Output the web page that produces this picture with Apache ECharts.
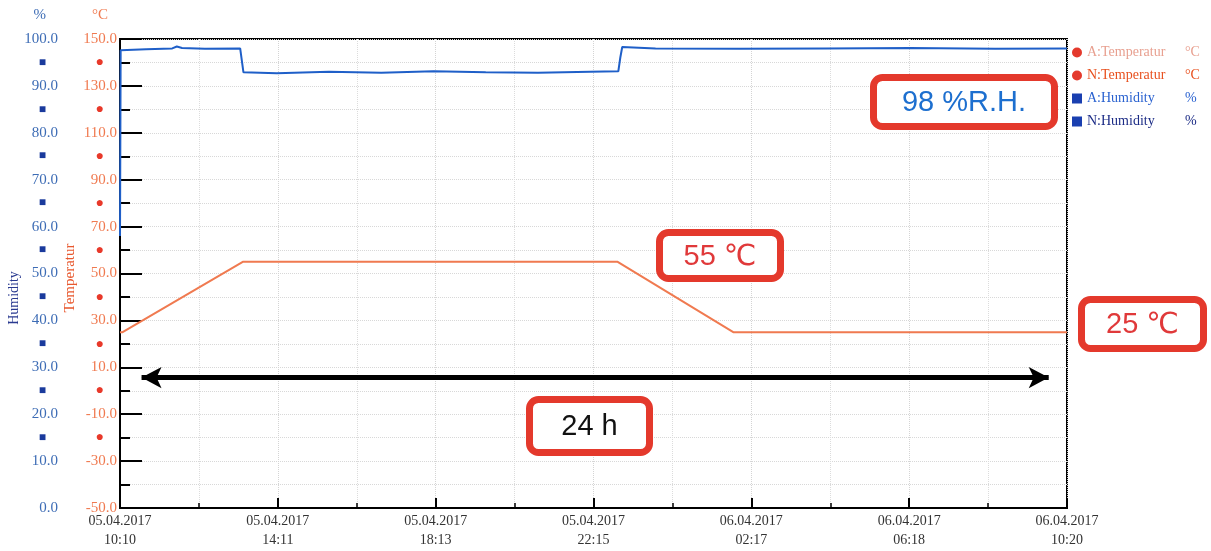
<!DOCTYPE html>
<html>
<head>
<meta charset="utf-8">
<script src="https://cdn.jsdelivr.net/npm/echarts@6/dist/echarts.min.js"></script>
<style>
html,body{margin:0;padding:0;background:#fff;}
#chart{width:1211px;height:551px;}
</style>
</head>
<body>
<div id="chart"></div>
<script>
// ---- data (x = minutes since 05.04.2017 10:10) ----
const xDates = ['05.04.2017','05.04.2017','05.04.2017','05.04.2017','06.04.2017','06.04.2017','06.04.2017'];
const xTimes = ['10:10','14:11','18:13','22:15','02:17','06:18','10:20'];
const spanMinutes = 1450;

const tempTime   = [0, 4, 188, 762, 939, 1450];
const tempValues = [25, 25, 55, 55, 25, 25];

const humTime   = [0, 1, 2, 40, 80, 87, 95, 130, 184, 189, 240, 320, 400, 480, 560, 640, 720, 763, 766, 769, 820, 950, 1080, 1210, 1340, 1450];
const humValues = [58, 97.6, 97.9, 97.8, 98.0, 98.4, 98.1, 97.9, 98.0, 92.9, 92.7, 93.0, 92.8, 93.1, 92.9, 92.8, 93.0, 93.1, 96.0, 98.3, 98.0, 97.9, 98.0, 98.1, 97.9, 98.0];

const seriesNames = ['A:Temperatur', 'N:Temperatur', 'A:Humidity', 'N:Humidity'];
const seriesUnits = ['°C', '°C', '%', '%'];

const arrowY = 5.6;             // temperature-axis level of the 24 h arrow
const arrowFrom = 33, arrowTo = 1422;

const annotations = [
  {text: '98 %R.H.', x: 870, y: 74, w: 188, h: 56, color: '#1d6fcf'},
  {text: '55 ℃',    x: 656, y: 229, w: 128, h: 53, color: '#e0393a'},
  {text: '25 ℃',    x: 1078, y: 296, w: 129, h: 56, color: '#e0393a'},
  {text: '24 h',     x: 526, y: 396, w: 127, h: 60, color: '#111111'}
];

const zip = (a, b) => a.map((v, i) => [v, b[i]]);
const step = spanMinutes / 6;
const serif = 'Liberation Serif, DejaVu Serif, serif';
const sans = 'Liberation Sans, DejaVu Sans, sans-serif';
const humColor = '#3d6cb5';
const tempColor = '#f07a50';

const chart = echarts.init(document.getElementById('chart'));

const graphics = [];
annotations.forEach(a => {
  graphics.push({
    type: 'rect', z: 100,
    shape: {x: a.x + 3.5, y: a.y + 3.5, width: a.w - 7, height: a.h - 7, r: 9},
    style: {fill: '#fff', stroke: '#e4392c', lineWidth: 7}
  });
  graphics.push({
    type: 'text', z: 101,
    x: a.x + a.w / 2, y: a.y + a.h / 2 + 1,
    style: {text: a.text, fill: a.color, font: '29px ' + sans, align: 'center', verticalAlign: 'middle'}
  });
});
graphics.push({
  type: 'text', x: 14, y: 298, rotation: Math.PI / 2,
  style: {text: 'Humidity', fill: '#2a3a90', font: '14px ' + serif, align: 'center', verticalAlign: 'middle'}
});
graphics.push({
  type: 'text', x: 70, y: 278, rotation: Math.PI / 2,
  style: {text: 'Temperatur', fill: '#e8582e', font: '15px ' + serif, align: 'center', verticalAlign: 'middle'}
});

const legendColors = ['#e8a090', '#e8501e', '#2a62d0', '#1c2c86'];
const legendIconColors = ['#e4392c', '#e4392c', '#1a3fb0', '#1a3fb0'];

const option = {
  animation: false,
  backgroundColor: '#fff',
  grid: {left: 120, right: 144, top: 39, bottom: 43, show: true, borderColor: '#000', borderWidth: 2, backgroundColor: 'transparent'},
  legend: {
    orient: 'vertical', left: 1067, top: 40,
    itemWidth: 10, itemHeight: 10, itemGap: 8,
    selectedMode: false,
    data: seriesNames.map((n, i) => ({
      name: n,
      icon: i < 2 ? 'circle' : 'rect',
      itemStyle: {color: legendIconColors[i]},
      textStyle: {color: legendColors[i]}
    })),
    formatter: name => '{n|' + name + '}{u|' + seriesUnits[seriesNames.indexOf(name)] + '}',
    textStyle: {
      fontFamily: serif, fontSize: 14, lineHeight: 15,
      rich: {n: {width: 98, fontFamily: serif, fontSize: 14}, u: {fontFamily: serif, fontSize: 14}}
    }
  },
  xAxis: {
    type: 'value', min: 0, max: spanMinutes, interval: step,
    axisLine: {show: true, onZero: false, lineStyle: {color: '#000', width: 2}},
    axisTick: {show: true, inside: true, length: 10, lineStyle: {color: '#000', width: 2}},
    minorTick: {show: true, splitNumber: 2, length: 5, lineStyle: {color: '#000', width: 1.5}},
    splitLine: {show: true, lineStyle: {color: '#d4d4d4', type: 'dotted'}},
    minorSplitLine: {show: true, lineStyle: {color: '#dcdcdc', type: 'dotted'}},
    axisLabel: {
      showMinLabel: true, showMaxLabel: true, margin: 4,
      fontFamily: serif, fontSize: 14, color: '#333', lineHeight: 19,
      formatter: v => { const i = Math.round(v / step); return xDates[i] + '\n' + xTimes[i]; }
    }
  },
  yAxis: [
    { // temperature with minor markers
      type: 'value', min: -50, max: 150, interval: 10, position: 'left',
      name: '°C', nameLocation: 'end', nameGap: 16,
      nameTextStyle: {color: tempColor, fontFamily: serif, fontSize: 15, align: 'right', padding: [0, 12, 0, 0]},
      axisLine: {show: true, onZero: false, lineStyle: {color: '#000', width: 2}},
      axisTick: {show: true, inside: true, length: 10, lineStyle: {color: '#000', width: 2}},
      splitLine: {show: true, lineStyle: {color: '#d8d8d8', type: 'dotted'}},
      axisLabel: {
        margin: 3, fontFamily: serif, fontSize: 15, color: tempColor,
        formatter: v => {
          if (((v + 50) % 20 + 20) % 20 === 10) return v === -40 ? '' : '{d|●}';
          return v.toFixed(1);
        },
        rich: {d: {color: '#e8392a', fontSize: 14, padding: [0, 13, 0, 0]}}
      }
    },
    { // long major ticks for temperature
      type: 'value', min: -50, max: 150, interval: 20, position: 'left',
      axisLine: {show: false, onZero: false},
      axisTick: {show: true, inside: true, length: 22, lineStyle: {color: '#000', width: 2}},
      splitLine: {show: false},
      axisLabel: {show: false}
    },
    { // humidity
      type: 'value', min: 0, max: 100, interval: 5, position: 'left', offset: 60,
      name: '%', nameLocation: 'end', nameGap: 16,
      nameTextStyle: {color: humColor, fontFamily: serif, fontSize: 15, align: 'right', padding: [0, 14, 0, 0]},
      axisLine: {show: false, onZero: false}, axisTick: {show: false}, splitLine: {show: false},
      axisLabel: {
        margin: 2, fontFamily: serif, fontSize: 15, color: humColor,
        formatter: v => {
          if (v % 10 === 5) return v === 5 ? '' : '{m|■}';
          return v.toFixed(1);
        },
        rich: {m: {color: '#1a3a9c', fontSize: 12, padding: [0, 12, 0, 0]}}
      }
    }
  ],
  series: [
    {
      name: 'A:Temperatur', type: 'line', yAxisIndex: 0, showSymbol: false,
      data: zip(tempTime, tempValues),
      itemStyle: {color: '#e4392c'},
      lineStyle: {color: tempColor, width: 2},
      markLine: {
        silent: true, symbol: ['arrow', 'arrow'], symbolSize: [16, 20],
        label: {show: false},
        lineStyle: {color: '#000', width: 5, type: 'solid'},
        data: [[{coord: [arrowFrom, arrowY]}, {coord: [arrowTo, arrowY]}]]
      }
    },
    {name: 'N:Temperatur', type: 'line', yAxisIndex: 0, showSymbol: false, data: [], itemStyle: {color: '#e4392c'}},
    {
      name: 'A:Humidity', type: 'line', yAxisIndex: 2, showSymbol: false,
      data: zip(humTime, humValues),
      itemStyle: {color: '#1a3fb0'},
      lineStyle: {color: '#1f5fc8', width: 2}
    },
    {name: 'N:Humidity', type: 'line', yAxisIndex: 2, showSymbol: false, data: [], itemStyle: {color: '#1a3fb0'}}
  ],
  graphic: graphics
};
chart.setOption(option);
</script>
</body>
</html>
